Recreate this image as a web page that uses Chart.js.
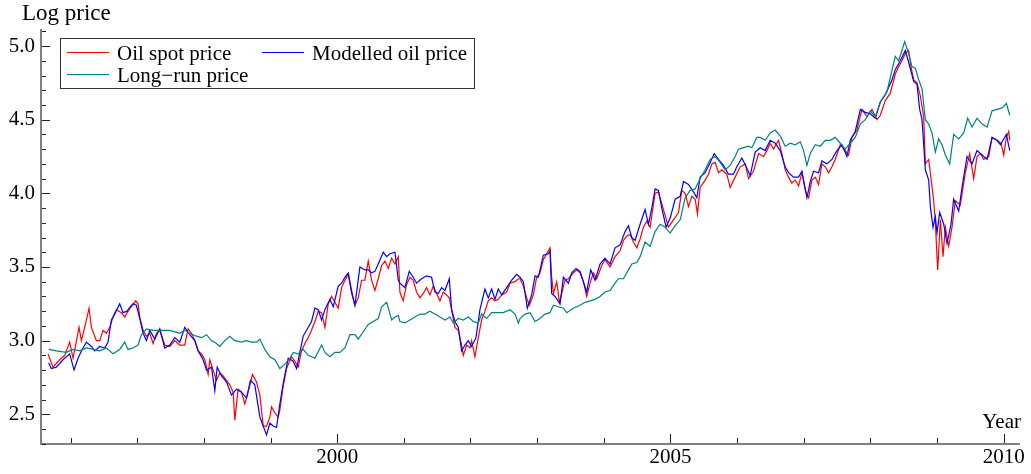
<!DOCTYPE html>
<html>
<head>
<meta charset="utf-8">
<script src="https://cdn.jsdelivr.net/npm/chart.js@4.4.1/dist/chart.umd.min.js"></script>
<style>
  html, body { margin: 0; padding: 0; background: #fff; }
  #grafica { display: block; }
</style>
</head>
<body>
<canvas id="grafica" width="1031" height="474"></canvas>
<script>
// Datos (anio decimal, log precio)
const spotYears = [1995.661,1995.736,1995.836,1995.911,1995.986,1996.037,1996.127,1996.162,1996.212,1996.277,1996.312,1996.337,1996.387,1996.437,1996.487,1996.537,1996.587,1996.637,1996.687,1996.762,1996.812,1996.862,1996.912,1996.977,1997.012,1997.038,1997.088,1997.138,1997.188,1997.238,1997.288,
  1997.338,1997.413,1997.488,1997.563,1997.638,1997.713,1997.763,1997.813,1997.864,1997.914,1997.964,1998.014,1998.064,1998.089,1998.139,1998.189,1998.239,1998.289,1998.339,1998.389,1998.439,1998.464,1998.514,1998.564,1998.614,1998.664,1998.729,1998.789,1998.840,1998.890,1998.940,1998.990,1999.015,1999.065,1999.115,
  1999.140,1999.190,1999.240,1999.315,1999.365,1999.415,1999.465,1999.515,1999.565,1999.615,1999.666,1999.716,1999.766,1999.816,1999.866,1999.916,1999.966,2000.016,2000.066,2000.116,2000.166,2000.216,2000.266,2000.316,2000.366,2000.416,2000.466,2000.516,2000.566,2000.616,2000.667,2000.717,2000.767,2000.817,2000.867,2000.917,
  2000.941,2000.991,2001.041,2001.091,2001.141,2001.191,2001.241,2001.291,2001.341,2001.391,2001.442,2001.492,2001.542,2001.592,2001.642,2001.682,2001.717,2001.767,2001.817,2001.867,2001.892,2001.942,2001.992,2002.017,2002.067,2002.117,2002.167,2002.217,2002.267,2002.317,2002.367,2002.417,2002.468,2002.543,2002.593,2002.668,2002.718,
  2002.743,2002.793,2002.843,2002.883,2002.943,2002.993,2003.043,2003.093,2003.143,2003.193,2003.218,2003.244,2003.294,2003.334,2003.369,2003.419,2003.469,2003.544,2003.594,2003.644,2003.694,2003.744,2003.794,2003.844,2003.894,2003.969,2004.019,2004.094,2004.169,2004.245,2004.295,2004.345,2004.395,2004.445,2004.495,
  2004.545,2004.595,2004.645,2004.695,2004.770,2004.820,2004.870,2004.920,2004.970,2005.046,2005.121,2005.171,2005.221,2005.271,2005.321,2005.371,2005.406,2005.446,2005.521,2005.571,2005.621,2005.671,2005.721,2005.771,2005.846,2005.896,2005.971,2006.047,2006.122,2006.172,2006.247,2006.322,
  2006.397,2006.447,2006.497,2006.547,2006.622,2006.672,2006.722,2006.772,2006.822,2006.873,2006.923,2006.973,2007.023,2007.073,2007.123,2007.173,2007.223,2007.273,2007.323,2007.373,2007.423,2007.473,2007.548,2007.623,2007.673,2007.723,2007.798,2007.874,2007.949,2008.024,2008.099,
  2008.149,2008.224,2008.299,2008.374,2008.424,2008.474,2008.524,2008.574,2008.609,2008.650,2008.700,2008.750,2008.800,2008.825,2008.875,2008.900,2008.950,2008.975,2009.010,2009.050,2009.090,2009.125,2009.175,2009.225,2009.275,2009.350,2009.425,2009.490,2009.550,2009.600,2009.651,2009.701,2009.776,2009.826,2009.901,2009.961,2010.001,2010.041,2010.076,2010.091];
const spotPrice = [2.91,2.82,2.87,2.90,2.99,2.88,3.09,3.00,3.09,3.22,3.09,3.06,3.00,3.00,3.07,3.05,3.09,3.16,3.21,3.19,3.16,3.20,3.23,3.27,3.25,3.16,3.07,3.03,3.05,2.98,3.05,
  3.07,2.97,2.96,3.00,2.97,2.97,3.08,3.05,3.00,2.93,2.91,2.87,2.77,2.87,2.80,2.73,2.78,2.76,2.73,2.70,2.65,2.46,2.67,2.65,2.57,2.65,2.77,2.72,2.63,2.42,2.42,2.48,2.55,2.51,2.48,
  2.53,2.69,2.81,2.89,2.86,2.82,2.93,2.98,3.02,3.07,3.13,3.20,3.19,3.09,3.25,3.30,3.26,3.22,3.36,3.41,3.45,3.32,3.24,3.29,3.41,3.41,3.54,3.41,3.34,3.42,3.51,3.54,3.49,3.56,3.52,3.57,
  3.33,3.27,3.38,3.43,3.41,3.33,3.29,3.32,3.36,3.31,3.37,3.32,3.27,3.33,3.31,3.29,3.21,3.09,3.07,2.97,2.90,2.97,2.95,3.00,2.89,3.02,3.14,3.20,3.27,3.29,3.27,3.28,3.31,3.33,3.39,3.40,3.42,
  3.42,3.37,3.29,3.24,3.31,3.43,3.46,3.55,3.59,3.63,3.43,3.32,3.40,3.26,3.32,3.41,3.42,3.46,3.48,3.46,3.40,3.30,3.39,3.46,3.42,3.51,3.55,3.50,3.57,3.61,3.68,3.71,3.72,3.67,3.63,
  3.69,3.77,3.81,3.77,4.00,4.01,3.93,3.85,3.77,3.82,3.87,4.02,4.00,3.91,3.98,3.96,3.86,4.04,4.09,4.13,4.20,4.21,4.14,4.16,4.13,4.04,4.11,4.18,4.20,4.10,4.15,4.27,
  4.25,4.29,4.34,4.30,4.36,4.27,4.16,4.11,4.07,4.09,4.05,4.14,4.02,3.97,4.09,4.11,4.06,4.20,4.18,4.14,4.18,4.23,4.33,4.29,4.26,4.38,4.43,4.57,4.52,4.57,4.50,
  4.53,4.63,4.68,4.81,4.86,4.90,4.95,4.97,4.86,4.77,4.75,4.66,4.52,4.20,4.23,4.14,3.95,3.80,3.48,3.82,3.57,3.77,3.64,3.77,3.95,3.92,4.14,4.27,4.10,4.25,4.27,4.23,4.25,4.38,4.36,4.34,4.26,4.38,4.42,4.36];

const modelYears = [1995.671,1995.711,1995.786,1995.886,1995.986,1996.052,1996.112,1996.162,1996.237,1996.312,1996.362,1996.437,1996.512,1996.562,1996.612,1996.662,1996.737,1996.787,1996.847,1996.897,1996.937,1996.987,1997.038,1997.088,1997.138,1997.188,1997.263,
  1997.338,1997.413,1997.488,1997.563,1997.638,1997.713,1997.788,1997.864,1997.914,1997.989,1998.039,1998.114,1998.164,1998.199,1998.264,1998.339,1998.414,1998.489,1998.564,1998.639,1998.699,1998.764,1998.840,1998.890,1998.940,1998.990,1999.040,1999.090,
  1999.140,1999.190,1999.265,1999.340,1999.390,1999.440,1999.490,1999.540,1999.615,1999.666,1999.716,1999.766,1999.816,1999.891,1999.941,2000.016,2000.066,2000.116,2000.166,2000.216,2000.266,2000.341,2000.416,2000.466,2000.516,2000.566,2000.616,2000.692,2000.742,2000.792,2000.867,2000.917,
  2000.941,2001.016,2001.081,2001.141,2001.191,2001.266,2001.341,2001.416,2001.467,2001.517,2001.567,2001.617,2001.682,2001.717,2001.767,2001.817,2001.867,2001.917,2001.967,2002.017,2002.082,2002.142,2002.217,2002.267,2002.317,2002.367,2002.417,2002.468,2002.543,2002.618,2002.693,
  2002.743,2002.793,2002.853,2002.918,2002.968,2003.018,2003.093,2003.168,2003.193,2003.218,2003.269,2003.344,2003.394,2003.469,2003.519,2003.584,2003.644,2003.694,2003.744,2003.804,2003.869,2003.944,2004.019,2004.094,2004.169,2004.245,2004.320,2004.370,2004.420,2004.470,
  2004.545,2004.620,2004.670,2004.720,2004.770,2004.820,2004.870,2004.935,2004.995,2005.071,2005.146,2005.196,2005.271,2005.346,2005.396,2005.446,2005.521,2005.596,2005.656,2005.721,2005.796,2005.871,2005.946,2005.996,2006.072,2006.147,2006.197,2006.272,
  2006.347,2006.422,2006.497,2006.572,2006.647,2006.722,2006.772,2006.847,2006.923,2006.973,2007.048,2007.098,2007.148,2007.223,2007.273,2007.348,2007.423,2007.498,2007.573,2007.648,2007.698,2007.773,2007.849,2007.924,2007.999,2008.074,
  2008.149,2008.224,2008.324,2008.374,2008.449,2008.524,2008.574,2008.650,2008.700,2008.740,2008.775,2008.825,2008.875,2008.900,2008.940,2008.975,2009.000,2009.040,2009.100,2009.150,2009.210,2009.250,2009.325,2009.375,2009.450,2009.525,2009.600,2009.676,2009.751,2009.826,2009.901,2009.951,2010.041,2010.091];
const modelPrice = [2.85,2.81,2.82,2.87,2.91,2.80,2.88,2.93,2.99,2.96,2.93,2.96,2.95,2.99,3.14,3.18,3.25,3.19,3.20,3.23,3.25,3.24,3.15,3.05,3.00,3.07,3.01,
  3.08,2.95,2.97,3.02,2.99,3.09,3.04,3.00,2.93,2.87,2.80,2.82,2.66,2.82,2.76,2.72,2.63,2.67,2.65,2.61,2.73,2.70,2.48,2.42,2.36,2.44,2.42,2.41,
  2.57,2.71,2.88,2.86,2.81,2.92,3.03,3.07,3.13,3.22,3.21,3.14,3.21,3.28,3.23,3.37,3.39,3.43,3.46,3.34,3.24,3.50,3.48,3.48,3.46,3.47,3.52,3.60,3.57,3.59,3.60,3.41,
  3.39,3.36,3.47,3.43,3.39,3.42,3.44,3.43,3.33,3.32,3.36,3.34,3.42,3.21,3.13,3.09,2.93,2.97,3.00,2.96,3.02,3.21,3.35,3.29,3.35,3.28,3.35,3.31,3.36,3.41,3.45,
  3.43,3.40,3.22,3.31,3.44,3.43,3.58,3.59,3.61,3.32,3.30,3.25,3.43,3.39,3.46,3.49,3.47,3.40,3.33,3.48,3.41,3.52,3.56,3.52,3.63,3.65,3.74,3.78,3.70,3.68,
  3.79,3.89,3.79,3.90,4.03,4.02,3.90,3.77,3.83,3.96,3.98,4.08,4.06,4.01,3.97,4.11,4.14,4.21,4.27,4.23,4.19,4.13,4.13,4.18,4.24,4.17,4.12,4.28,
  4.31,4.29,4.36,4.34,4.29,4.18,4.14,4.11,4.11,4.15,3.97,4.08,4.15,4.14,4.22,4.20,4.23,4.29,4.33,4.25,4.36,4.42,4.57,4.55,4.54,4.51,
  4.62,4.67,4.77,4.84,4.90,4.97,4.89,4.76,4.74,4.57,4.50,4.16,4.09,3.91,3.77,3.84,3.73,3.87,3.79,3.66,3.79,3.96,3.88,4.04,4.25,4.20,4.29,4.26,4.23,4.38,4.36,4.33,4.40,4.29];

const longRunYears = [1995.676,1995.786,1995.936,1996.037,1996.137,1996.237,1996.337,1996.437,1996.537,1996.637,1996.737,1996.812,1996.862,1996.937,1997.012,1997.062,1997.138,1997.238,
  1997.338,1997.488,1997.638,1997.713,1997.788,1997.889,1997.964,1998.039,1998.114,1998.189,1998.239,1998.314,1998.389,1998.464,1998.564,1998.639,1998.714,1998.789,1998.840,1998.915,1998.990,1999.065,
  1999.140,1999.215,1999.290,1999.340,1999.415,1999.490,1999.565,1999.666,1999.766,1999.816,1999.891,1999.966,2000.041,2000.116,2000.191,2000.266,2000.316,2000.391,2000.466,2000.541,2000.616,2000.667,2000.742,2000.817,2000.867,2000.917,
  2000.941,2001.016,2001.091,2001.166,2001.241,2001.316,2001.391,2001.467,2001.542,2001.617,2001.692,2001.742,2001.817,2001.892,2001.967,2002.042,2002.117,2002.167,2002.242,2002.317,2002.392,2002.492,2002.593,2002.668,2002.718,
  2002.743,2002.818,2002.893,2002.968,2003.043,2003.118,2003.193,2003.244,2003.319,2003.394,2003.444,2003.544,2003.644,2003.719,2003.794,2003.869,2003.944,2004.019,2004.094,2004.169,2004.219,2004.295,2004.370,2004.420,2004.495,
  2004.545,2004.620,2004.695,2004.770,2004.845,2004.920,2004.995,2005.071,2005.146,2005.221,2005.296,2005.371,2005.446,2005.521,2005.596,2005.671,2005.746,2005.821,2005.896,2005.971,2006.021,2006.097,2006.172,2006.222,2006.297,
  2006.347,2006.422,2006.497,2006.572,2006.647,2006.722,2006.797,2006.873,2006.948,2006.998,2007.048,2007.098,2007.173,2007.248,2007.323,2007.398,2007.473,2007.548,2007.623,2007.698,2007.773,2007.849,2007.924,2007.999,2008.074,
  2008.149,2008.249,2008.374,2008.424,2008.474,2008.514,2008.574,2008.624,2008.675,2008.725,2008.775,2008.825,2008.875,2008.925,2008.975,2009.025,2009.075,2009.125,2009.190,2009.250,2009.325,2009.400,2009.460,2009.525,2009.600,2009.676,2009.751,2009.826,2009.901,2009.976,2010.041,2010.091];
const longRunPrice = [2.94,2.93,2.92,2.94,2.93,2.95,2.94,2.93,2.95,2.91,2.94,2.99,2.94,2.95,2.97,3.04,3.08,3.07,
  3.07,3.07,3.05,3.07,3.05,3.03,3.02,3.04,3.00,2.98,2.96,3.00,3.03,3.00,2.99,3.00,2.99,2.99,3.01,2.94,2.89,2.87,
  2.81,2.84,2.88,2.92,2.91,2.94,2.90,2.88,2.97,2.92,2.89,2.92,2.92,2.95,3.04,3.04,3.01,3.06,3.11,3.13,3.15,3.23,3.26,3.14,3.16,3.17,
  3.13,3.12,3.14,3.16,3.18,3.18,3.20,3.18,3.16,3.14,3.16,3.12,3.15,3.14,3.16,3.13,3.12,3.18,3.15,3.19,3.19,3.19,3.21,3.18,3.12,
  3.15,3.18,3.19,3.13,3.15,3.18,3.19,3.24,3.23,3.22,3.19,3.22,3.24,3.26,3.27,3.28,3.30,3.33,3.34,3.39,3.42,3.42,3.48,3.52,3.53,
  3.57,3.67,3.64,3.74,3.79,3.77,3.73,3.78,3.82,3.97,4.02,4.03,4.10,4.16,4.23,4.25,4.21,4.16,4.19,4.25,4.30,4.31,4.32,4.31,4.38,
  4.38,4.36,4.41,4.43,4.39,4.32,4.34,4.33,4.35,4.29,4.19,4.27,4.33,4.32,4.36,4.36,4.38,4.34,4.30,4.34,4.38,4.47,4.50,4.56,4.52,
  4.62,4.69,4.93,4.90,4.97,5.03,4.95,4.86,4.85,4.77,4.71,4.50,4.47,4.41,4.28,4.37,4.33,4.26,4.20,4.40,4.37,4.41,4.51,4.45,4.51,4.47,4.45,4.56,4.57,4.58,4.61,4.53];

const seriesLabels = ['Oil spot price', 'Modelled oil price', 'Long\u2212run price'];
const seriesColors = ['#ff0000', '#0000ff', '#008080'];
const xLabelYears = [2000, 2005, 2010];
const yLabelValues = [2.5, 3.0, 3.5, 4.0, 4.5, 5.0];

const fuente = '"Liberation Serif", "Times New Roman", serif';

function puntos(xs, ys) {
  return xs.map((x, i) => ({ x: x, y: ys[i] }));
}

// marcas hacia dentro, leyenda y textos de los ejes
const decoracion = {
  id: 'decoracion',
  afterDraw(chart) {
    const ctx = chart.ctx;
    const area = chart.chartArea;
    const sx = chart.scales.x;
    const sy = chart.scales.y;
    ctx.save();
    ctx.strokeStyle = '#222';
    ctx.lineWidth = 1;
    ctx.beginPath();
    sx.ticks.forEach(t => {
      const px = Math.round(sx.getPixelForValue(t.value)) + 0.5;
      const largo = xLabelYears.includes(t.value) ? 9 : 5;
      ctx.moveTo(px, area.bottom - 1);
      ctx.lineTo(px, area.bottom - 1 - largo);
    });
    sy.ticks.forEach(t => {
      const py = Math.round(sy.getPixelForValue(t.value)) + 0.5;
      const largo = yLabelValues.some(v => Math.abs(v - t.value) < 1e-6) ? 8 : 4;
      ctx.moveTo(area.left + 1, py);
      ctx.lineTo(area.left + 1 + largo, py);
    });
    ctx.stroke();

    // textos
    ctx.fillStyle = '#000';
    ctx.textBaseline = 'alphabetic';
    ctx.textAlign = 'left';
    ctx.font = '23px ' + fuente;
    ctx.fillText('Log price', 22, 20);
    ctx.font = '21px ' + fuente;
    ctx.textAlign = 'right';
    ctx.fillText('Year', 1021, 428);

    // leyenda
    ctx.fillStyle = '#fff';
    ctx.fillRect(60.5, 38.5, 414, 50);
    ctx.strokeStyle = '#333';
    ctx.strokeRect(60.5, 38.5, 414, 50);
    const pos = [[67, 60], [262, 60], [67, 82]];
    chart.data.datasets.forEach((ds, i) => {
      const [lx, ly] = pos[i];
      ctx.strokeStyle = ds.borderColor;
      ctx.lineWidth = 1.2;
      ctx.beginPath();
      ctx.moveTo(lx, ly - 7.5);
      ctx.lineTo(lx + 42, ly - 7.5);
      ctx.stroke();
      ctx.fillStyle = '#000';
      ctx.textAlign = 'left';
      ctx.fillText(ds.label, lx + 50, ly);
    });
    ctx.restore();
  }
};

const ctx = document.getElementById('grafica').getContext('2d');
new Chart(ctx, {
  type: 'line',
  data: {
    datasets: [
      { label: seriesLabels[0], data: puntos(spotYears, spotPrice), borderColor: seriesColors[0], order: 3 },
      { label: seriesLabels[1], data: puntos(modelYears, modelPrice), borderColor: seriesColors[1], order: 2 },
      { label: seriesLabels[2], data: puntos(longRunYears, longRunPrice), borderColor: seriesColors[2], order: 1 }
    ]
  },
  options: {
    responsive: false,
    animation: false,
    devicePixelRatio: 1,
    layout: { padding: { top: 30, right: 12, left: 0, bottom: 0 } },
    elements: {
      point: { radius: 0 },
      line: { borderWidth: 1.2, tension: 0, fill: false }
    },
    plugins: {
      legend: { display: false },
      tooltip: { enabled: false }
    },
    scales: {
      x: {
        type: 'linear',
        min: 1995.556,
        max: 2010.23,
        afterFit: s => { s.height = 30; },
        grid: { display: false, drawTicks: false },
        border: { display: true, color: '#808080', width: 2 },
        ticks: {
          stepSize: 1,
          includeBounds: false,
          autoSkip: false,
          maxRotation: 0,
          padding: 1,
          color: '#000',
          font: { family: fuente, size: 21 },
          callback: v => xLabelYears.includes(v) ? String(v) : ''
        }
      },
      y: {
        min: 2.298,
        max: 5.109,
        afterFit: s => { s.width = 41; },
        grid: { display: false, drawTicks: false },
        border: { display: true, color: '#808080', width: 2 },
        ticks: {
          stepSize: 0.1,
          maxTicksLimit: 100,
          includeBounds: false,
          autoSkip: false,
          padding: 6,
          color: '#000',
          font: { family: fuente, size: 21 },
          callback: v => yLabelValues.some(l => Math.abs(l - v) < 1e-6) ? v.toFixed(1) : ''
        }
      }
    }
  },
  plugins: [decoracion]
});
</script>
</body>
</html>
